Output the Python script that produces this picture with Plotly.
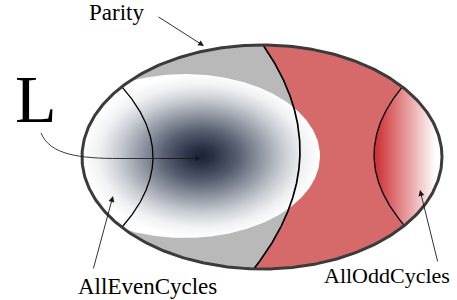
import numpy as np
import plotly.graph_objects as go

# ---- content ----
labels = ["Parity", "L", "AllEvenCycles", "AllOddCycles"]
region_names = ["Parity", "AllEvenCycles", "AllOddCycles"]

# ---- geometry (pixel space of a 457x300 canvas) ----
W, H = 457, 300
outer = (262, 157, 180, 112)      # cx, cy, rx, ry
blob = (185, 156, 135, 82)


def inside(x, y, e):
    cx, cy, rx, ry = e
    return ((x - cx) / rx) ** 2 + ((y - cy) / ry) ** 2 <= 1.0


def angle_of(x, y, e):
    cx, cy, rx, ry = e
    return np.arctan2((y - cy) / ry, (x - cx) / rx)


def arc(e, t0, t1, n=200):
    cx, cy, rx, ry = e
    t = np.linspace(t0, t1, n)
    return cx + rx * np.cos(t), cy + ry * np.sin(t)


def clipped_curve(f, e, y0=30, y1=285, n=600):
    ys = np.linspace(y0, y1, n)
    xs = f(ys)
    m = inside(xs, ys, e)
    return xs[m], ys[m]


def mid_curve(y):
    return 224.82 + 0.99722 * y - 0.0033069 * y ** 2


def left_curve(y):
    return 153 - 0.0063 * (y - 157) ** 2


def right_curve(y):
    return 374 + 0.0061 * (y - 155) ** 2


def ray(P, d, e):
    cx, cy, rx, ry = e
    u, v = (P[0] - cx) / rx, (P[1] - cy) / ry
    a, b = d[0] / rx, d[1] / ry
    A = a * a + b * b
    B = u * a + v * b
    C = u * u + v * v - 1
    return (-B + np.sqrt(B * B - A * C)) / A


fig = go.Figure()

# gray (left of middle curve) and red (right of middle curve)
mx, my = clipped_curve(mid_curve, outer)
tb = angle_of(mx[-1], my[-1], outer)
tt = angle_of(mx[0], my[0], outer)
ax_, ay_ = arc(outer, tb, tt + 2 * np.pi)
fig.add_trace(go.Scatter(x=np.r_[mx, ax_], y=np.r_[my, ay_], fill="toself",
                         fillcolor="#b9b9b9", mode="lines", line=dict(width=0),
                         hoverinfo="skip"))
ax_, ay_ = arc(outer, tb, tt)
fig.add_trace(go.Scatter(x=np.r_[mx, ax_], y=np.r_[my, ay_], fill="toself",
                         fillcolor="#d66a6a", mode="lines", line=dict(width=0),
                         hoverinfo="skip"))

# shaded blob (intersection of blob ellipse with outer ellipse)
P = (201, 157)
th = np.linspace(0, 2 * np.pi, 400)
bx, by = [], []
for t in th:
    d = (np.cos(t), np.sin(t))
    r = min(ray(P, d, outer), ray(P, d, blob))
    bx.append(P[0] + r * d[0])
    by.append(P[1] + r * d[1])
fig.add_trace(go.Scatter(
    x=bx, y=by, fill="toself", mode="lines", line=dict(width=0), hoverinfo="skip",
    fillgradient=dict(type="radial", colorscale=[
        [0, "#1c2335"], [0.1, "#283044"], [0.3, "#545c6d"], [0.5, "#8f95a1"],
        [0.7, "#caced4"], [0.86, "#f0f1f3"], [1, "#ffffff"]])))

# right (odd cycles) region
rx_, ry_ = clipped_curve(right_curve, outer)
tb = angle_of(rx_[-1], ry_[-1], outer)
tt = angle_of(rx_[0], ry_[0], outer)
ax_, ay_ = arc(outer, tb, tt)
fig.add_trace(go.Scatter(
    x=np.r_[rx_, ax_], y=np.r_[ry_, ay_], fill="toself", mode="lines",
    line=dict(width=0), hoverinfo="skip",
    fillgradient=dict(type="horizontal", start=374, stop=436,
                      colorscale=[[0, "#cc2a2e"], [1, "#ffffff"]])))

# boundary curves
for f, w in [(mid_curve, 1.7), (left_curve, 1.3), (right_curve, 1.3)]:
    cx_, cy_ = clipped_curve(f, outer)
    fig.add_trace(go.Scatter(x=cx_, y=cy_, mode="lines",
                             line=dict(color="black", width=w), hoverinfo="skip"))

# outer ellipse outline
ox, oy = arc(outer, 0, 2 * np.pi, 400)
fig.add_trace(go.Scatter(x=ox, y=oy, mode="lines",
                         line=dict(color="#3b3b3b", width=3), hoverinfo="skip"))

# curved L pointer
fig.add_shape(type="path", path="M 41 133 C 50 155 80 158.5 120 158.5 L 190 158.5",
              line=dict(color="#222222", width=0.9))

arrows = [((204, 46), (157, 16)), ((201, 158.5), (160, 158.5)),
          ((113, 196), (93, 270)), ((420, 190), (438, 263))]
for (tx, ty), (sx, sy) in arrows:
    fig.add_annotation(x=tx, y=ty, ax=sx, ay=sy, axref="x", ayref="y", xref="x", yref="y",
                       text="", showarrow=True, arrowhead=2, arrowsize=1.3,
                       arrowwidth=0.9, arrowcolor="#1a1a1a", standoff=0)

font = "Liberation Serif"
text_pos = [(116.5, 12.5, 23), (36, 99, 68), (147.5, 286, 23), (386.5, 275.5, 22)]
for lab, (x, y, s) in zip(labels, text_pos):
    fig.add_annotation(x=x, y=y, xref="x", yref="y", text=lab, showarrow=False,
                       font=dict(family=font, size=s, color="black"),
                       xanchor="center", yanchor="middle")

fig.update_layout(width=W, height=H, margin=dict(l=0, r=0, t=0, b=0),
                  paper_bgcolor="white", plot_bgcolor="white", showlegend=False,
                  xaxis=dict(range=[0, W], visible=False, fixedrange=True),
                  yaxis=dict(range=[H, 0], visible=False, fixedrange=True))

fig.write_html("out.html", config={"displayModeBar": False},
               post_script="document.body.style.margin='0';document.body.style.overflow='hidden';")
